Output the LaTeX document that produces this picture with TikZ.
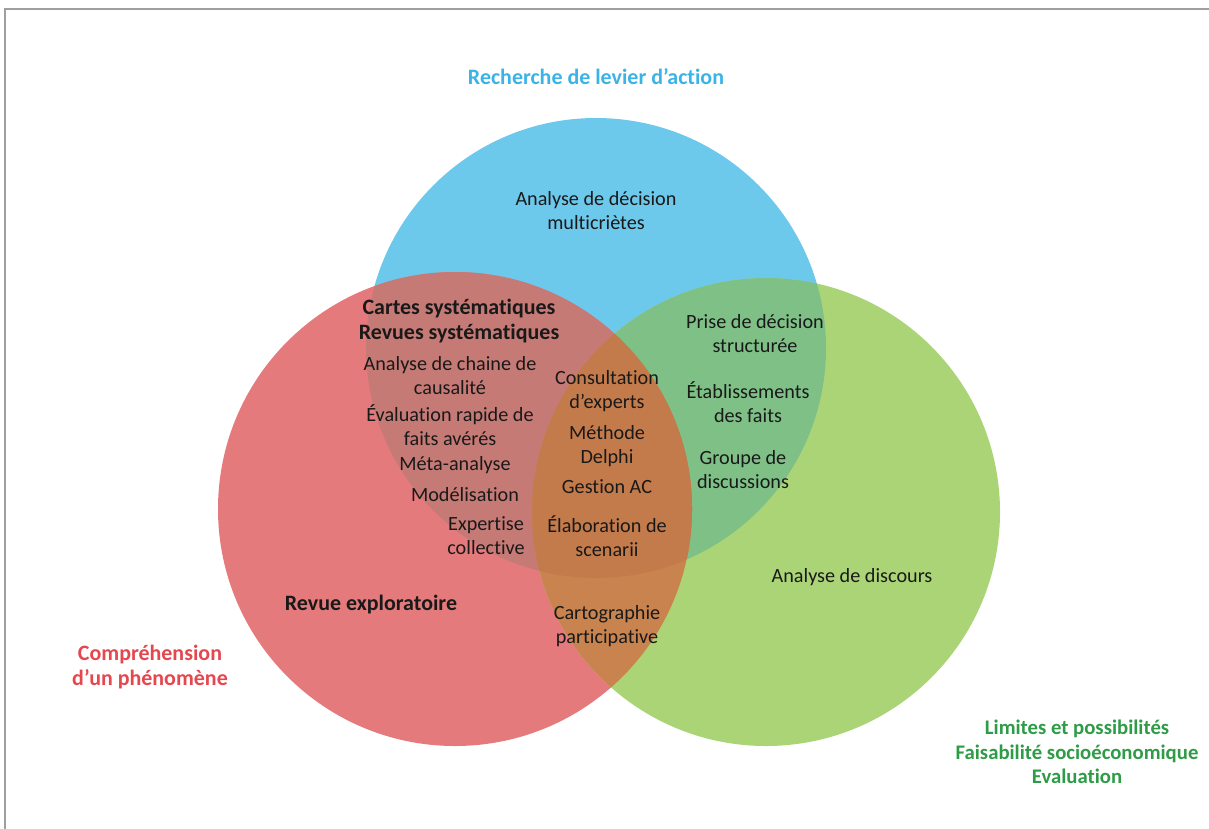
\documentclass[tikz,border=0pt]{standalone}
\usepackage{fontspec}
\setmainfont[Ligatures=NoCommon]{Carlito}

\definecolor{zblue}{HTML}{6DC9EC}
\definecolor{zred}{HTML}{E57A7C}
\definecolor{zgreen}{HTML}{ABD476}
\definecolor{zrb}{HTML}{C67A75}
\definecolor{zbg}{HTML}{7FC087}
\definecolor{zrg}{HTML}{C8834F}
\definecolor{zrbg}{HTML}{C47B4B}
\definecolor{tblue}{HTML}{3BB3E6}
\definecolor{tred}{HTML}{E5474F}
\definecolor{tgreen}{HTML}{2E9B47}

\begin{document}
\begin{tikzpicture}[
    x=0.02cm, y=-0.02cm,
    frame/.style={draw=gray!75, line width=1.2pt},
    item/.style={align=center, text=black!90,
                 font=\fontsize{11.5}{13.6}\selectfont},
    hitem/.style={item, font=\fontsize{12.5}{14.7}\selectfont\bfseries},
    theme/.style={align=center, font=\fontsize{12.5}{14.2}\selectfont\bfseries}
]
    \useasboundingbox (0,0) rectangle (1209,828);
    \draw[frame] (1220,9) -- (5,9) -- (5,840);

    % the three sets
    \coordinate (cB) at (596,348);
    \coordinate (cR) at (455,509);
    \coordinate (cG) at (766,512);

    \fill[zblue]  (cB) circle[radius=230];
    \fill[zred]   (cR) circle[radius=237];
    \fill[zgreen] (cG) circle[radius=234];
    \begin{scope}
        \clip (cB) circle[radius=230];
        \fill[zbg] (cG) circle[radius=234];
    \end{scope}
    \begin{scope}
        \clip (cR) circle[radius=237];
        \fill[zrb] (cB) circle[radius=230];
        \fill[zrg] (cG) circle[radius=234];
        \clip (cB) circle[radius=230];
        \fill[zrbg] (cG) circle[radius=234];
    \end{scope}

    % themes
    \node[theme, text=tblue]  (levier) at (596,77)   {Recherche de levier d’action};
    \node[theme, text=tred]   (compr)  at (150,667)  {Compréhension\\d’un phénomène};
    \node[theme, text=tgreen, font=\fontsize{11.8}{14}\selectfont\bfseries]
        (limits) at (1077,752) {Limites et possibilités\\Faisabilité socioéconomique\\Evaluation};

    % methods
    \node[item]  (mcda)    at (596,211) {Analyse de décision\\multicriètes};
    \node[hitem] (maps)    at (459,321) {Cartes systématiques\\Revues systématiques};
    \node[item]  (chain)   at (450,376) {Analyse de chaine de\\causalité};
    \node[item]  (rapid)   at (450,425) {Évaluation rapide de\\faits avérés};
    \node[item]  (meta)    at (455,465) {Méta-analyse};
    \node[item]  (model)   at (465,495) {Modélisation};
    \node[item]  (expert)  at (486,536) {Expertise\\collective};
    \node[hitem] (explo)   at (371,605) {Revue exploratoire};
    \node[item]  (consult) at (607,391) {Consultation\\d’experts};
    \node[item]  (delphi)  at (607,446) {Méthode\\Delphi};
    \node[item]  (gestion) at (607,487) {Gestion AC};
    \node[item]  (scen)    at (607,536) {Élaboration de\\scenarii};
    \node[item]  (carto)   at (607,626) {Cartographie\\participative};
    \node[item]  (prise)   at (755,334) {Prise de décision\\structurée};
    \node[item]  (etab)    at (748,402) {Établissements\\des faits};
    \node[item]  (groupe)  at (743,470) {Groupe de\\discussions};
    \node[item]  (disc)    at (852,577) {Analyse de discours};
\end{tikzpicture}
\end{document}
